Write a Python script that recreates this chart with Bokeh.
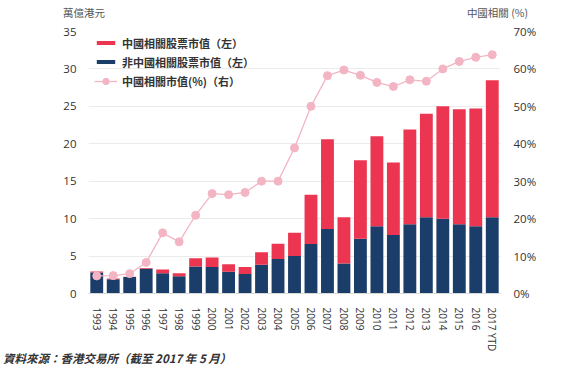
from bokeh.plotting import figure
from bokeh.models import (ColumnDataSource, FactorRange, Range1d, LinearAxis, SingleIntervalTicker,
                          PrintfTickFormatter, Legend, LegendItem, Div)
from bokeh.layouts import column
from bokeh.embed import file_html
from bokeh.resources import INLINE

years = ["1993", "1994", "1995", "1996", "1997", "1998", "1999", "2000", "2001", "2002",
         "2003", "2004", "2005", "2006", "2007", "2008", "2009", "2010", "2011", "2012",
         "2013", "2014", "2015", "2016", "2017 YTD"]
non_china = [2.8, 1.9, 2.2, 3.3, 2.7, 2.3, 3.6, 3.55, 2.9, 2.6, 3.85, 4.6, 5.0, 6.6, 8.6,
             4.0, 7.3, 9.0, 7.8, 9.25, 10.2, 10.0, 9.25, 9.0, 10.2]
china = [0.15, 0.1, 0.05, 0.1, 0.5, 0.4, 1.1, 1.25, 1.0, 0.95, 1.65, 2.05, 3.1, 6.6, 12.0,
         6.2, 10.5, 12.0, 9.7, 12.65, 13.8, 15.0, 15.35, 15.7, 18.3]
china_pct = [4.7, 4.8, 5.3, 8.3, 16.2, 13.8, 20.9, 26.7, 26.4, 27.0, 30.0, 30.0, 38.9, 50.0,
             58.2, 59.7, 58.3, 56.4, 55.3, 57.1, 56.7, 60.0, 62.0, 63.1, 63.8]

left_title = "萬億港元"
right_title = "中國相關 (%)"
source_note = "資料來源：香港交易所（截至 2017 年 5 月）"

RED = "#EC3550"
NAVY = "#1B3D69"
PINK = "#F3B5C4"
CJK = "Noto Sans CJK TC"
NUM = "Open Sans"

src = ColumnDataSource(dict(year=years, non_china=non_china, china=china, pct=china_pct))

p = figure(width=568, height=333, x_range=FactorRange(*years), y_range=Range1d(0, 35),
           output_backend="svg", toolbar_location=None,
           min_border_left=88, min_border_right=68, min_border_top=9, min_border_bottom=62)
p.outline_line_color = None
p.background_fill_color = "white"
p.extra_y_ranges = {"pct": Range1d(0, 70)}

bars = p.vbar_stack(["non_china", "china"], x="year", width=0.78, source=src,
                    color=[NAVY, RED], line_width=0)
line = p.line("year", "pct", source=src, y_range_name="pct", color=PINK, line_width=1.3)
pts = p.scatter("year", "pct", source=src, y_range_name="pct", marker="circle", size=8,
                fill_color=PINK, line_color=PINK)

# axes
p.yaxis.ticker = SingleIntervalTicker(interval=5)
p.yaxis.axis_line_color = None
p.yaxis.major_tick_line_color = None
p.yaxis.minor_tick_line_color = None
p.yaxis.major_label_standoff = 6
p.yaxis.major_label_text_font = NUM
p.yaxis.major_label_text_font_size = "11.5px"
p.yaxis.major_label_text_color = "#333333"

right = LinearAxis(y_range_name="pct", ticker=SingleIntervalTicker(interval=10),
                   formatter=PrintfTickFormatter(format="%d%%"))
right.axis_line_color = None
right.major_tick_line_color = None
right.minor_tick_line_color = None
right.major_label_standoff = 7
right.major_label_text_font = NUM
right.major_label_text_font_size = "11.5px"
right.major_label_text_color = "#333333"
p.add_layout(right, "right")

p.xaxis.major_label_orientation = "vertical"
p.xaxis.axis_line_color = "#D8D8D8"
p.xaxis.major_tick_line_color = None
p.xaxis.minor_tick_line_color = None
p.xaxis.major_label_standoff = 8
p.xaxis.major_label_text_font = NUM
p.xaxis.major_label_text_font_size = "10px"
p.xaxis.major_label_text_color = "#333333"

p.xgrid.grid_line_color = None
p.ygrid.grid_line_color = "#EBEBEB"
p.ygrid.ticker = SingleIntervalTicker(interval=5)

# legends
common = dict(glyph_width=23, label_height=19, spacing=0, padding=0, margin=0,
              label_standoff=5, border_line_color=None, background_fill_alpha=0,
              label_text_font=CJK, label_text_font_size="11px",
              label_text_font_style="bold", label_text_color="#333333")
leg1 = Legend(items=[LegendItem(label="中國相關股票市值（左）", renderers=[bars[1]]),
                     LegendItem(label="非中國相關股票市值（左）", renderers=[bars[0]])],
              location=(6, 222), glyph_height=5, **common)
leg2 = Legend(items=[LegendItem(label="中國相關市值(%)（右）", renderers=[line, pts])],
              location=(6, 203), glyph_height=16, **common)
p.add_layout(leg1)
p.add_layout(leg2)

top_div = Div(text=(
    '<div style="position:relative;width:568px;height:22px;font-family:\'Noto Sans CJK TC\';'
    'font-size:10.5px;color:#555555;">'
    f'<span style="position:absolute;left:63px;top:5px;line-height:16px;white-space:nowrap;">{left_title}</span>'
    f'<span style="position:absolute;right:40px;top:5px;line-height:16px;white-space:nowrap;">{right_title}</span>'
    '</div>'), width=568, height=22, margin=0)

foot_div = Div(text=(
    '<div style="position:relative;width:568px;height:26px;font-family:\'Noto Sans CJK TC\';'
    'font-size:11.5px;font-style:italic;font-weight:bold;color:#333333;">'
    f'<span style="position:absolute;left:3px;top:0px;line-height:6px;white-space:nowrap;">{source_note}</span>'
    '</div>'), width=568, height=26, margin=0)

layout = column(top_div, p, foot_div, spacing=0)

open("out.html", "w").write(file_html(layout, INLINE))
